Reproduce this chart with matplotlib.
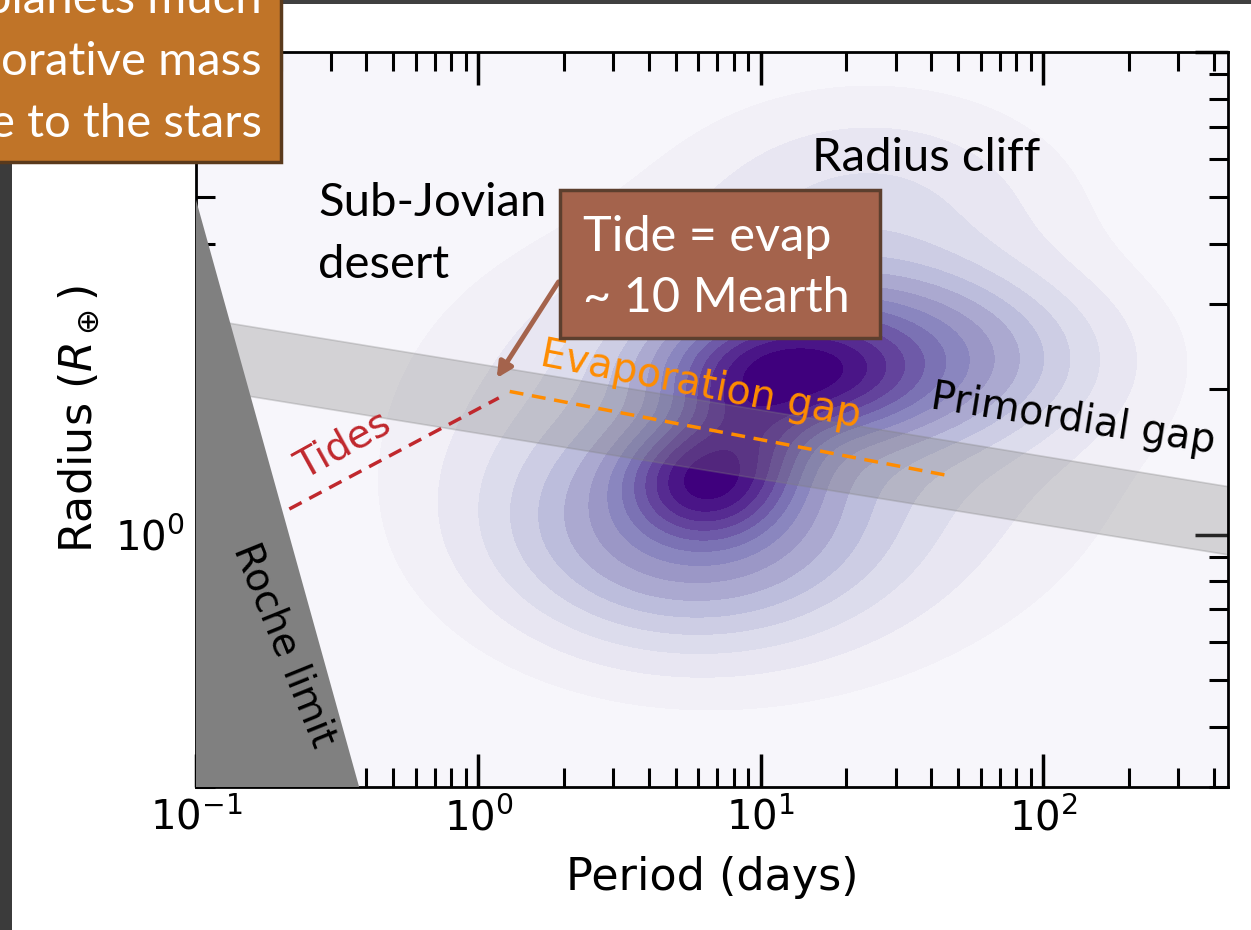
import numpy as np
import matplotlib
matplotlib.use("Agg")
import matplotlib.pyplot as plt
from matplotlib.patches import Rectangle
from matplotlib.ticker import NullFormatter, LogLocator

# ---------------- data ----------------
roche_period = [0.1, 0.378, 0.1]
roche_radius = [4.94, 0.3, 0.3]

gap_period = [0.1, 450.0]
gap_upper = [2.82, 1.26]
gap_lower = [2.02, 0.91]

tides_period = [0.214, 1.18]
tides_radius = [1.13, 1.92]

evap_period = [1.29, 44.6]
evap_radius = [1.98, 1.33]

# density blobs (log10 period, log10 radius)
kde_logP = [0.80, 1.12, 1.35, 0.75, 1.00, 1.40, 0.95]
kde_logR = [0.11, 0.34, 0.37, 0.02, 0.20, 0.68, 0.22]
kde_sigP = [0.16, 0.24, 0.42, 0.38, 0.65, 0.40, 0.15]
kde_sigR = [0.07, 0.07, 0.11, 0.14, 0.25, 0.14, 0.08]
kde_weight = [0.55, 0.55, 0.30, 0.22, 0.08, 0.05, 0.30]
kde_levels = [0.012, 0.03, 0.055, 0.085, 0.12, 0.16, 0.21, 0.27, 0.34,
              0.42, 0.51, 0.61, 0.72, 0.85, 1.0]

xlim = (0.1, 450)
ylim = (0.3, 10)

# ---------------- figure ----------------
W, H = 1251, 930
fig = plt.figure(figsize=(W / 100, H / 100), dpi=100)
fig.patch.set_facecolor("white")
ax = fig.add_axes([196 / W, 1 - 787 / H, (1228 - 196) / W, (787 - 52) / H])
ax.set_facecolor("#f7f6fb")
ax.set_xscale("log")
ax.set_yscale("log")
ax.set_xlim(*xlim)
ax.set_ylim(*ylim)

# density
lp = np.linspace(-1.05, 2.75, 400)
lr = np.linspace(-0.6, 1.05, 300)
LP, LR = np.meshgrid(lp, lr)
Z = np.zeros_like(LP)
for mp, mr, sp, sr, w in zip(kde_logP, kde_logR, kde_sigP, kde_sigR, kde_weight):
    Z += w * np.exp(-0.5 * (((LP - mp) / sp) ** 2 + ((LR - mr) / sr) ** 2))
Z /= Z.max()
cols = plt.cm.Purples(np.linspace(0.10, 1.0, len(kde_levels) - 1))
ax.contourf(10 ** LP, 10 ** LR, Z, levels=kde_levels, colors=cols, zorder=1)

# primordial gap band
ax.fill_between(gap_period, gap_lower, gap_upper, facecolor="grey", alpha=0.3,
                edgecolor="grey", linewidth=1.2, zorder=2)

# Roche limit
ax.fill(roche_period, roche_radius, color="#808080", zorder=3, linewidth=0)

# tides / evaporation lines
ax.plot(tides_period, tides_radius, ls=(0, (4, 2.5)), color="#c0282d", lw=2.5, zorder=4)
ax.plot(evap_period, evap_radius, ls=(0, (4, 2.5)), color="#ff8c00", lw=2.5, zorder=4)

# labels inside the axes
ax.text(0.332, 1.53, "Tides", color="#c0282d", fontsize=28, rotation=29,
        ha="center", va="center", zorder=5)
ax.text(6.1, 2.04, "Evaporation gap", color="#ff8c00", fontsize=28.5, rotation=-11,
        ha="center", va="center", zorder=5)
ax.text(127, 1.73, "Primordial gap", color="black", fontsize=28.5, rotation=-9,
        ha="center", va="center", zorder=5)
ax.text(0.205, 0.59, "Roche limit", color="black", fontsize=28, rotation=-68,
        ha="center", va="center", zorder=5)

# ticks
ax.tick_params(which="major", direction="in", length=24, width=2.5, top=True, right=True,
               labelsize=29, pad=8)
ax.tick_params(which="minor", direction="in", length=14, width=2.2, top=True, right=True)
ax.xaxis.set_minor_locator(LogLocator(base=10, subs=np.arange(2, 10)))
ax.yaxis.set_minor_locator(LogLocator(base=10, subs=np.arange(2, 10)))
ax.xaxis.set_minor_formatter(NullFormatter())
ax.yaxis.set_minor_formatter(NullFormatter())
for s in ax.spines.values():
    s.set_linewidth(2)
ax.set_xlabel("Period (days)", fontsize=32, labelpad=12)
ax.set_ylabel(r"Radius ($R_\oplus$)", fontsize=32, labelpad=10)

# ---------------- slide overlay ----------------
def fx(px):
    return px / W

def fy(py):
    return 1 - py / H

# dark slide frame strips
fig.add_artist(Rectangle((0, 0), fx(12), 1, transform=fig.transFigure,
                         facecolor="#3b3b3b", edgecolor="none", zorder=10))
fig.add_artist(Rectangle((0, fy(4)), 1, fy(0) - fy(4), transform=fig.transFigure,
                         facecolor="#404040", edgecolor="none", zorder=10))

# orange box top-left (slide callout, partly outside the picture)
fig.add_artist(Rectangle((fx(-20), fy(162)), fx(281 + 20), fy(-40) - fy(162),
                         transform=fig.transFigure, facecolor="#c07428",
                         edgecolor="#5a3a1c", linewidth=2.5, zorder=11))
fig.text(fx(262), fy(62), "planets much\norative mass\ne to the stars",
         color="white", fontsize=34, family="Lato", ha="right", va="center",
         multialignment="right", linespacing=1.58, zorder=12)

# slide text annotations
fig.text(fx(318), fy(203), "Sub-Jovian", color="black", fontsize=34, family="Lato",
         ha="left", va="center", zorder=12)
fig.text(fx(318), fy(265), "desert", color="black", fontsize=34, family="Lato",
         ha="left", va="center", zorder=12)
fig.text(fx(812), fy(158), "Radius cliff", color="black", fontsize=34, family="Lato",
         ha="left", va="center", zorder=12)

# brown box
fig.add_artist(Rectangle((fx(560), fy(338)), fx(880) - fx(560), fy(190) - fy(338),
                         transform=fig.transFigure, facecolor="#a4634c",
                         edgecolor="#5c3f2e", linewidth=2.5, zorder=11))
fig.text(fx(583), fy(237), "Tide = evap", color="white", fontsize=35, family="Lato",
         ha="left", va="center", zorder=12)
fig.text(fx(583), fy(298), "~ 10 Mearth", color="white", fontsize=35, family="Lato",
         ha="left", va="center", zorder=12)
ax.annotate("", xy=(1.16, 2.11), xytext=(1.92, 3.34), xycoords="data",
            arrowprops=dict(arrowstyle="-|>,head_length=0.9,head_width=0.45",
                            color="#a4634c", lw=3.5, shrinkA=0, shrinkB=0),
            annotation_clip=False, zorder=12)

fig.savefig("out.png", dpi=100)
